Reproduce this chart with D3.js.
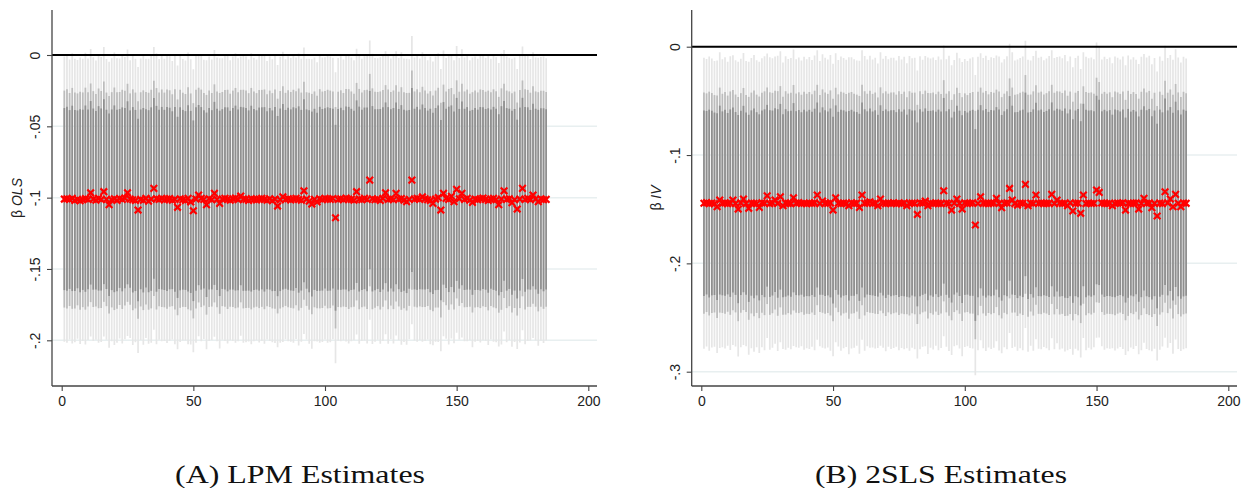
<!DOCTYPE html>
<html><head><meta charset="utf-8">
<script src="https://cdn.jsdelivr.net/npm/d3@7"></script>
<style>
html,body{margin:0;padding:0;background:#fff;}
svg{display:block;}
</style></head>
<body>
<svg id="chart" width="1241" height="488"></svg>
<script>
// ---------- DATA ----------
const olsEstimates = [
-.1010,-.1008,-.1013,-.1005,-.1020,-.1012,-.1022,-.1015,-.1007,-.1012,
-.0966,-.1010,-.1018,-.1005,-.1013,-.0958,-.1012,-.1050,-.1015,-.1008,
-.1020,-.1006,-.1012,-.1003,-.0966,-.1010,-.1015,-.1020,-.1087,-.1012,
-.1018,-.1005,-.1025,-.1010,-.0935,-.1008,-.1012,-.1004,-.1016,-.1010,
-.1006,-.1018,-.1012,-.1068,-.1008,-.1015,-.1020,-.1005,-.1030,-.1092,
-.1010,-.0982,-.1005,-.1012,-.1050,-.1008,-.1015,-.0970,-.1012,-.1040,
-.1010,-.1005,-.1012,-.1018,-.1008,-.1003,-.1015,-.0989,-.1010,-.1012,
-.1020,-.1007,-.1013,-.1016,-.1010,-.1005,-.1012,-.1018,-.1008,-.1022,
-.1010,-.1059,-.1015,-.0994,-.1012,-.1008,-.1016,-.1010,-.1004,-.1013,
-.1018,-.0952,-.1010,-.1025,-.1045,-.1012,-.1030,-.1008,-.1015,-.1005,
-.1010,-.1012,-.1006,-.1141,-.1012,-.1008,-.1015,-.1003,-.1010,-.1012,
-.1018,-.0958,-.1010,-.1015,-.1005,-.1012,-.0877,-.1008,-.1015,-.1010,
-.1020,-.1005,-.0966,-.1012,-.1008,-.1015,-.0970,-.1010,-.1006,-.1018,
-.1029,-.1012,-.0877,-.1010,-.1005,-.1012,-.0995,-.1008,-.1015,-.1020,
-.1040,-.1010,-.1000,-.1087,-.0970,-.1005,-.1012,-.0990,-.1029,-.0942,
-.1008,-.0970,-.1012,-.1005,-.1018,-.1033,-.1010,-.1015,-.1008,-.1003,
-.1012,-.1020,-.1010,-.1005,-.1015,-.1050,-.1010,-.0952,-.1012,-.1008,
-.1036,-.1015,-.1080,-.1010,-.0935,-.1012,-.1005,-.1015,-.0982,-.1010,
-.1029,-.1008,-.1015,-.1012
];
const olsSE = [
.0388,.0392,.0381,.0395,.0386,.0379,.0390,.0384,.0397,.0383,
.0391,.0386,.0380,.0393,.0388,.0394,.0382,.0389,.0385,.0398,
.0387,.0381,.0392,.0384,.0390,.0378,.0395,.0386,.0389,.0383,
.0393,.0380,.0388,.0391,.0385,.0396,.0382,.0389,.0384,.0392,
.0387,.0379,.0394,.0386,.0390,.0383,.0381,.0397,.0388,.0385,
.0391,.0384,.0389,.0380,.0393,.0387,.0382,.0390,.0386,.0395,
.0383,.0388,.0392,.0381,.0387,.0394,.0385,.0380,.0391,.0389,
.0384,.0396,.0386,.0382,.0390,.0388,.0393,.0379,.0387,.0385,
.0392,.0384,.0389,.0395,.0381,.0388,.0386,.0391,.0383,.0397,
.0385,.0390,.0382,.0388,.0394,.0386,.0380,.0392,.0387,.0384,
.0391,.0389,.0383,.0396,.0385,.0388,.0382,.0390,.0393,.0386,
.0381,.0389,.0394,.0384,.0387,.0392,.0380,.0395,.0386,.0383,
.0390,.0388,.0385,.0393,.0382,.0391,.0387,.0384,.0398,.0386,
.0389,.0381,.0392,.0385,.0390,.0383,.0394,.0387,.0380,.0391,
.0386,.0388,.0393,.0384,.0389,.0382,.0395,.0387,.0385,.0390,
.0383,.0392,.0386,.0389,.0381,.0394,.0388,.0384,.0391,.0387,
.0385,.0393,.0382,.0390,.0388,.0386,.0396,.0383,.0389,.0384,
.0392,.0387,.0381,.0390,.0386,.0394,.0388,.0383,.0389,.0385,
.0392,.0386,.0390,.0384
];
const ivEstimates = [
-.1445,-.1440,-.1448,-.1443,-.1450,-.1477,-.1416,-.1446,-.1441,-.1449,
-.1444,-.1416,-.1447,-.1499,-.1442,-.1406,-.1448,-.1492,-.1443,-.1446,
-.1450,-.1483,-.1441,-.1445,-.1376,-.1448,-.1443,-.1416,-.1447,-.1385,
-.1468,-.1442,-.1446,-.1449,-.1394,-.1444,-.1440,-.1447,-.1445,-.1450,
-.1443,-.1446,-.1441,-.1369,-.1448,-.1425,-.1444,-.1447,-.1442,-.1508,
-.1394,-.1445,-.1449,-.1443,-.1446,-.1468,-.1441,-.1448,-.1444,-.1483,
-.1369,-.1446,-.1442,-.1431,-.1447,-.1444,-.1468,-.1406,-.1445,-.1449,
-.1443,-.1446,-.1441,-.1448,-.1444,-.1450,-.1442,-.1468,-.1446,-.1443,
-.1447,-.1548,-.1441,-.1445,-.1425,-.1468,-.1444,-.1448,-.1442,-.1446,
-.1449,-.1330,-.1443,-.1447,-.1508,-.1444,-.1406,-.1446,-.1499,-.1442,
-.1448,-.1445,-.1441,-.1646,-.1447,-.1385,-.1443,-.1446,-.1449,-.1444,
-.1442,-.1400,-.1447,-.1487,-.1445,-.1441,-.1308,-.1416,-.1448,-.1462,
-.1444,-.1446,-.1271,-.1468,-.1443,-.1447,-.1369,-.1445,-.1442,-.1449,
-.1446,-.1444,-.1363,-.1448,-.1416,-.1443,-.1447,-.1445,-.1468,-.1441,
-.1517,-.1446,-.1444,-.1538,-.1369,-.1448,-.1443,-.1447,-.1445,-.1323,
-.1345,-.1442,-.1446,-.1449,-.1444,-.1468,-.1447,-.1443,-.1445,-.1441,
-.1508,-.1446,-.1448,-.1444,-.1442,-.1499,-.1447,-.1400,-.1445,-.1443,
-.1487,-.1446,-.1563,-.1444,-.1448,-.1339,-.1442,-.1406,-.1477,-.1363,
-.1445,-.1477,-.1443,-.1446
];
const ivSE = [
.0521,.0515,.0527,.0518,.0512,.0524,.0530,.0516,.0522,.0509,
.0526,.0519,.0513,.0528,.0517,.0523,.0511,.0525,.0520,.0532,
.0514,.0522,.0518,.0527,.0510,.0524,.0519,.0515,.0529,.0521,
.0513,.0526,.0517,.0522,.0531,.0516,.0520,.0512,.0525,.0518,
.0523,.0514,.0528,.0519,.0511,.0526,.0521,.0516,.0530,.0524,
.0518,.0513,.0527,.0520,.0515,.0532,.0522,.0517,.0511,.0525,
.0519,.0528,.0514,.0523,.0516,.0521,.0510,.0526,.0518,.0529,
.0515,.0522,.0520,.0513,.0527,.0517,.0524,.0511,.0528,.0519,
.0522,.0516,.0525,.0514,.0520,.0531,.0518,.0523,.0512,.0526,
.0517,.0521,.0515,.0529,.0519,.0513,.0524,.0520,.0527,.0516,
.0511,.0519,.0522,.0538,.0526,.0514,.0520,.0529,.0515,.0523,
.0519,.0512,.0527,.0521,.0516,.0525,.0518,.0530,.0513,.0522,
.0520,.0526,.0515,.0523,.0511,.0528,.0517,.0521,.0524,.0514,
.0519,.0527,.0516,.0522,.0513,.0525,.0520,.0531,.0518,.0524,
.0515,.0521,.0528,.0517,.0512,.0526,.0519,.0523,.0516,.0529,
.0520,.0514,.0525,.0518,.0522,.0511,.0527,.0521,.0515,.0524,
.0519,.0530,.0516,.0523,.0513,.0520,.0526,.0517,.0522,.0528,
.0514,.0521,.0518,.0525,.0512,.0523,.0519,.0516,.0527,.0520,
.0522,.0517,.0524,.0519
];
const xTicks = [0, 50, 100, 150, 200];
const olsYTicks = [0, -0.05, -0.1, -0.15, -0.2];
const olsYLabels = ["0", "-.05", "-.1", "-.15", "-.2"];
const ivYTicks = [0, -0.1, -0.2, -0.3];
const ivYLabels = ["0", "-.1", "-.2", "-.3"];
const zCrit = [2.576, 1.96, 1.645];   // 99%, 95%, 90%
const captions = ["(A) LPM Estimates", "(B) 2SLS Estimates"];

// ---------- DRAW ----------
const svg = d3.select("#chart");
const ciColors = ["#e6e6e6", "#bcbcbc", "#8f8f8f"];

function panel(cfg){
  const g = svg.append("g");
  const x = d3.scaleLinear().domain([0, 200]).range([cfg.x0, cfg.x200]);
  const y = d3.scaleLinear().domain([cfg.yTicks[0], cfg.yTicks[cfg.yTicks.length-1]]).range([cfg.yT0, cfg.yTLast]);
  const top = 10, bottom = 386;

  // gridlines
  g.selectAll(".grid").data(cfg.yTicks.filter(d => d !== 0)).enter().append("line")
    .attr("x1", cfg.axisX).attr("x2", cfg.right)
    .attr("y1", d => y(d)).attr("y2", d => y(d))
    .attr("stroke", "#e8eff0").attr("stroke-width", 1.5);

  const pts = cfg.est.map((e, i) => ({i: i + 1, e: e, se: cfg.se[i]}));

  zCrit.forEach((z, k) => {
    g.append("g").selectAll("line").data(pts).enter().append("line")
      .attr("x1", d => x(d.i)).attr("x2", d => x(d.i))
      .attr("y1", d => y(d.e + z * d.se)).attr("y2", d => y(d.e - z * d.se))
      .attr("stroke", ciColors[k]).attr("stroke-width", 1.7);
  });

  // zero line
  g.append("line").attr("x1", cfg.axisX).attr("x2", cfg.right)
    .attr("y1", y(0)).attr("y2", y(0)).attr("stroke", "#000").attr("stroke-width", 2);

  // markers
  const s = 3.3;
  g.append("g").selectAll("path").data(pts).enter().append("path")
    .attr("transform", d => `translate(${x(d.i)},${y(d.e)})`)
    .attr("d", `M${-s},${-s}L${s},${s}M${-s},${s}L${s},${-s}`)
    .attr("stroke", "#ff0000").attr("stroke-width", 2.2).attr("fill", "none");

  // y axis
  const ya = g.append("g").attr("transform", `translate(${cfg.axisX},0)`)
    .call(d3.axisLeft(y).tickValues(cfg.yTicks).tickSize(5).tickSizeOuter(0)
      .tickFormat((d, i) => cfg.yLabels[i]));
  ya.select(".domain").remove();
  ya.append("line").attr("x1", 0).attr("x2", 0).attr("y1", top).attr("y2", bottom)
    .attr("stroke", "#444").attr("stroke-width", 1.3);
  ya.selectAll(".tick line").attr("stroke", "#444").attr("stroke-width", 1.1);
  ya.selectAll(".tick text")
    .attr("x", 0).attr("dy", 0)
    .attr("transform", "translate(-12,0) rotate(-90)")
    .attr("text-anchor", "middle")
    .attr("font-family", "Liberation Sans, Arial, sans-serif").attr("font-size", 14).attr("fill", "#222");

  // x axis
  const xa = g.append("g").attr("transform", `translate(0,${bottom})`)
    .call(d3.axisBottom(x).tickValues(xTicks).tickSize(5).tickSizeOuter(0).tickFormat(d3.format("d")));
  xa.select(".domain").remove();
  xa.append("line").attr("x1", cfg.axisX).attr("x2", cfg.right).attr("y1", 0).attr("y2", 0)
    .attr("stroke", "#444").attr("stroke-width", 1.3);
  xa.selectAll(".tick line").attr("stroke", "#444").attr("stroke-width", 1.1);
  xa.selectAll(".tick text").attr("y", 10).attr("dy", "0.71em")
    .attr("font-family", "Liberation Sans, Arial, sans-serif").attr("font-size", 14).attr("fill", "#222");

  // y title
  const t = g.append("text")
    .attr("transform", `translate(${cfg.titleX},${(top + bottom) / 2}) rotate(-90)`)
    .attr("text-anchor", "middle")
    .attr("font-family", "Liberation Sans, Arial, sans-serif").attr("font-size", 14).attr("fill", "#222");
  t.append("tspan").text("β ");
  t.append("tspan").attr("font-style", "italic").text(cfg.titleSub);

  // caption
  g.append("text").attr("x", cfg.capX).attr("y", 483)
    .attr("text-anchor", "middle")
    .attr("font-family", "Liberation Serif, Times New Roman, serif").attr("font-size", 26)
    .attr("textLength", cfg.capW).attr("lengthAdjust", "spacingAndGlyphs")
    .attr("fill", "#111").text(cfg.caption);
}

panel({est: olsEstimates, se: olsSE, yTicks: olsYTicks, yLabels: olsYLabels, axisX: 52, x0: 61.7, x200: 588.3, right: 597,
       yT0: 55, yTLast: 340.3, titleX: 22, titleSub: "OLS", caption: captions[0], capX: 300, capW: 250});
panel({est: ivEstimates, se: ivSE, yTicks: ivYTicks, yLabels: ivYLabels, axisX: 691.7, x0: 701.3, x200: 1228.3, right: 1237,
       yT0: 46.7, yTLast: 371.7, titleX: 661, titleSub: "IV", caption: captions[1], capX: 941, capW: 252});
</script>
</body></html>
